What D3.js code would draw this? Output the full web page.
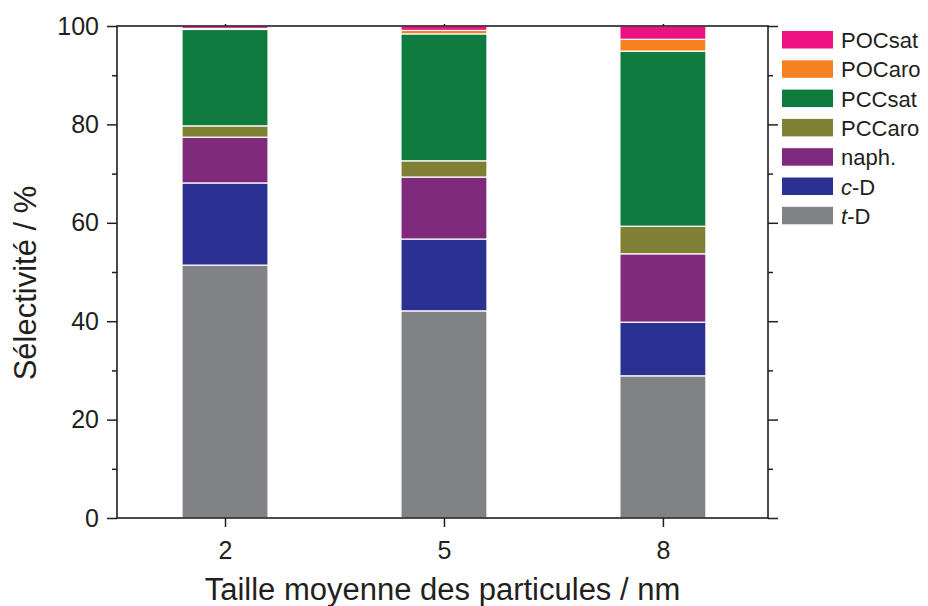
<!DOCTYPE html>
<html><head><meta charset="utf-8">
<script src="https://cdn.jsdelivr.net/npm/d3@7"></script>
<style>body{margin:0;background:#fff}text{font-family:Arial,"Liberation Sans",Helvetica,sans-serif;fill:#231f20}</style>
</head><body><svg id="c" width="928" height="606"></svg>
<script>
const sizes = [2, 5, 8];
const seriesNames = ["t-D", "c-D", "naph.", "PCCaro", "PCCsat", "POCaro", "POCsat"];
const tD     = [51.4, 42.1, 28.9];
const cD     = [16.7, 14.6, 10.9];
const naph   = [9.3, 12.6, 13.9];
const PCCaro = [2.3, 3.3, 5.6];
const PCCsat = [19.6, 25.8, 35.6];
const POCaro = [0.2, 0.7, 2.4];
const POCsat = [0.5, 0.9, 2.7];
const colors = ["#818285", "#2b3190", "#7f2a7c", "#808035", "#0e7c3e", "#f58220", "#ed1181"];
const yTicks = [0, 20, 40, 60, 80, 100];

const seriesVals = [tD, cD, naph, PCCaro, PCCsat, POCaro, POCsat];
const rows = sizes.map((s, i) => {
  const r = {size: s};
  seriesNames.forEach((n, k) => r[n] = seriesVals[k][i]);
  return r;
});
const stacked = d3.stack().keys(seriesNames)(rows);

const svg = d3.select("#c");
const L = 117, R = 768, T = 26, B = 518;
const x = d3.scaleLinear().domain([0.52, 9.44]).range([L, R]);
const y = d3.scaleLinear().domain([0, 100]).range([B, T]);
const bw = 86;

stacked.forEach((layer, k) => {
  svg.append("g").selectAll("rect").data(layer).join("rect")
    .attr("x", d => x(d.data.size) - bw / 2)
    .attr("width", bw)
    .attr("y", d => y(d[1]))
    .attr("height", d => Math.max(0, y(d[0]) - y(d[1])))
    .attr("fill", colors[k])
    .attr("stroke", "#fff").attr("stroke-width", 1.2);
});

const axisCol = "#231f20";
const gl = svg.append("g").attr("transform", `translate(${L},0)`)
  .call(d3.axisLeft(y).tickValues(yTicks).tickSize(10).tickPadding(8).tickFormat(d3.format("d")));
gl.append("g").call(d3.axisLeft(y).tickValues([10, 30, 50, 70, 90]).tickSize(5).tickFormat(""));
const gr = svg.append("g").attr("transform", `translate(${R},0)`)
  .call(d3.axisLeft(y).tickValues(yTicks).tickSize(-10).tickFormat(""));
gr.append("g").call(d3.axisLeft(y).tickValues([10, 30, 50, 70, 90]).tickSize(-5).tickFormat(""));
const gb = svg.append("g").attr("transform", `translate(0,${B})`)
  .call(d3.axisBottom(x).tickValues(sizes).tickSize(9).tickPadding(14).tickFormat(d3.format("d")));
const gt = svg.append("g").attr("transform", `translate(0,${T})`)
  .call(d3.axisTop(x).tickValues(sizes).tickSize(2).tickFormat(""));

svg.selectAll(".domain").remove();
svg.selectAll(".tick line").attr("stroke", axisCol).attr("stroke-width", 1.5);
svg.selectAll(".tick text").style("font-size", "25px").attr("fill", axisCol);
svg.append("rect").attr("x", L).attr("y", T).attr("width", R - L).attr("height", B - T)
  .attr("fill", "none").attr("stroke", axisCol).attr("stroke-width", 1.6);

svg.append("text").attr("x", (L + R) / 2).attr("y", 600).attr("text-anchor", "middle")
  .style("font-size", "31px").text("Taille moyenne des particules / nm");
svg.append("text").attr("transform", `translate(36,283) rotate(-90)`).attr("text-anchor", "middle")
  .style("font-size", "31px").text("Sélectivité / %");

const legendOrder = seriesNames.map((n, k) => ({n, c: colors[k]})).reverse();
const lg = svg.append("g");
legendOrder.forEach((d, i) => {
  const yy = 31 + i * 29.3;
  lg.append("rect").attr("x", 782).attr("y", yy).attr("width", 51).attr("height", 17.5).attr("fill", d.c);
  const t = lg.append("text").attr("x", 841).attr("y", yy + 17).style("font-size", "22px");
  if (d.n === "c-D" || d.n === "t-D") {
    t.append("tspan").style("font-style", "italic").text(d.n[0]);
    t.append("tspan").text(d.n.slice(1));
  } else t.text(d.n);
});
</script></body></html>
